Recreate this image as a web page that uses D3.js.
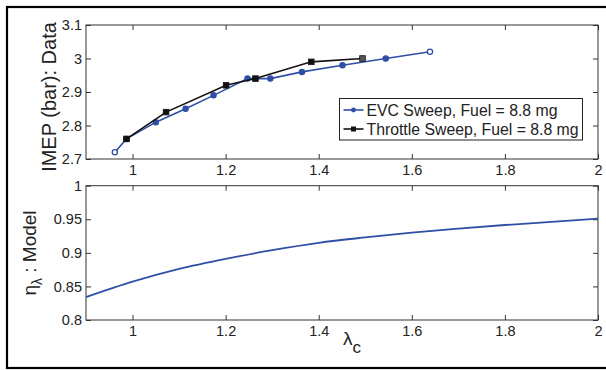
<!DOCTYPE html>
<html>
<head>
<meta charset="utf-8">
<script src="https://cdn.jsdelivr.net/npm/d3@7"></script>
<style>
  body { margin: 0; background: #fff; }
  text { font-family: "Liberation Sans", Arial, Helvetica, sans-serif; fill: #222; }
</style>
</head>
<body>
<div id="chart"></div>
<script>
// values
const evcLambda = [0.962, 0.987, 1.05, 1.114, 1.174, 1.247, 1.296, 1.364, 1.451, 1.544, 1.639];
const evcImep = [2.72, 2.76, 2.81, 2.85, 2.89, 2.94, 2.94, 2.96, 2.98, 3.00, 3.02];
const throttleLambda = [0.987, 1.072, 1.201, 1.264, 1.384, 1.494];
const throttleImep = [2.76, 2.84, 2.92, 2.94, 2.99, 3.00];
const modelLambda = [0.9, 1.0, 1.1, 1.2, 1.3, 1.4, 1.5, 1.6, 1.7, 1.8, 1.9, 2.0];
const modelEta = [0.834, 0.857, 0.876, 0.891, 0.904, 0.915, 0.923, 0.930, 0.936, 0.9415, 0.946, 0.951];
const xTicks = [1, 1.2, 1.4, 1.6, 1.8, 2];
const imepTicks = [2.7, 2.8, 2.9, 3, 3.1];
const etaTicks = [0.8, 0.85, 0.9, 0.95, 1];
const legendLabels = ["EVC Sweep, Fuel = 8.8 mg", "Throttle Sweep, Fuel = 8.8 mg"];

const blue = "#2f4fa6", black = "#111", axisCol = "#333";

let width = 606, height = 370,
    left = 86, right = 598,
    top1 = 25, bottom1 = 159,
    top2 = 185.7, bottom2 = 320;

const svg = d3.select("#chart").append("svg")
    .attr("width", width)
    .attr("height", height);

svg.append("rect").attr("width", width).attr("height", height).attr("fill", "#fff");

// outer frame (right side falls outside the picture)
svg.append("rect")
    .attr("x", 7).attr("y", 7)
    .attr("width", 610).attr("height", 361)
    .attr("fill", "none")
    .attr("stroke", "#000")
    .attr("stroke-width", 2.2);

const x = d3.scaleLinear().domain([0.9, 2]).range([left, right]);
const yImep = d3.scaleLinear().domain([2.7, 3.1]).range([bottom1, top1]);
const yEta = d3.scaleLinear().domain([0.8, 1]).range([bottom2, top2]);

const fmt = d => String(+d.toFixed(2));

function drawAxes(y, ticks, yTop, yBot) {
    const g = svg.append("g").attr("class", "axes");
    g.append("g")
        .attr("transform", "translate(0," + yBot + ")")
        .call(d3.axisBottom(x).tickValues(xTicks).tickSize(-5).tickPadding(6).tickFormat(fmt));
    g.append("g")
        .attr("transform", "translate(0," + yTop + ")")
        .call(d3.axisTop(x).tickValues(xTicks).tickSize(-5).tickFormat(""));
    g.append("g")
        .attr("transform", "translate(" + left + ",0)")
        .call(d3.axisLeft(y).tickValues(ticks).tickSize(-5).tickPadding(4).tickFormat(fmt));
    g.append("g")
        .attr("transform", "translate(" + right + ",0)")
        .call(d3.axisRight(y).tickValues(ticks).tickSize(-5).tickFormat(""));
    g.selectAll(".domain").remove();
    g.selectAll(".tick line").attr("stroke", axisCol);
    g.selectAll(".tick text")
        .attr("font-size", 14.5)
        .attr("fill", "#222")
        .attr("font-family", '"Liberation Sans", Arial, sans-serif');
    g.append("rect")
        .attr("x", left).attr("y", yTop)
        .attr("width", right - left).attr("height", yBot - yTop)
        .attr("fill", "none")
        .attr("stroke", axisCol)
        .attr("stroke-width", 1);
}

drawAxes(yImep, imepTicks, top1, bottom1);
drawAxes(yEta, etaTicks, top2, bottom2);

// top panel: data
const evc = evcLambda.map((l, i) => ({l: l, v: evcImep[i]}));
const thr = throttleLambda.map((l, i) => ({l: l, v: throttleImep[i]}));

const lineTop = d3.line().x(d => x(d.l)).y(d => yImep(d.v));

svg.append("path").datum(evc)
    .attr("d", lineTop)
    .attr("fill", "none")
    .attr("stroke", blue)
    .attr("stroke-width", 1.6);

svg.selectAll(".evcDot")
    .data(evc)
    .enter().append("circle")
    .attr("class", "evcDot")
    .attr("cx", d => x(d.l))
    .attr("cy", d => yImep(d.v))
    .attr("r", 2.6)
    .attr("fill", (d, i) => (i === 0 || i === evc.length - 1) ? "#fff" : blue)
    .attr("stroke", blue)
    .attr("stroke-width", 1.3);

svg.append("path").datum(thr)
    .attr("d", lineTop)
    .attr("fill", "none")
    .attr("stroke", black)
    .attr("stroke-width", 1.6);

svg.selectAll(".thrDot")
    .data(thr)
    .enter().append("rect")
    .attr("class", "thrDot")
    .attr("x", d => x(d.l) - 2.8)
    .attr("y", d => yImep(d.v) - 2.8)
    .attr("width", 5.6)
    .attr("height", 5.6)
    .attr("fill", (d, i) => i === thr.length - 1 ? "#555" : black)
    .attr("stroke", black)
    .attr("stroke-width", 0.8);

// legend
const legend = svg.append("g").attr("transform", "translate(339.5,98.5)");
legend.append("rect")
    .attr("width", 243).attr("height", 41.5)
    .attr("fill", "#fff")
    .attr("stroke", "#222")
    .attr("stroke-width", 1);

legendLabels.forEach(function(lbl, i) {
    let ly = 11.5 + i * 19;
    let col = i === 0 ? blue : black;
    legend.append("line")
        .attr("x1", 4).attr("x2", 24)
        .attr("y1", ly).attr("y2", ly)
        .attr("stroke", col).attr("stroke-width", 1.6);
    if (i === 0) {
        legend.append("circle").attr("cx", 14).attr("cy", ly).attr("r", 2.4).attr("fill", col);
    } else {
        legend.append("rect").attr("x", 11.5).attr("y", ly - 2.5).attr("width", 5).attr("height", 5).attr("fill", col);
    }
    legend.append("text")
        .attr("x", 27).attr("y", ly)
        .attr("dy", "0.36em")
        .attr("font-size", 15.8)
        .text(lbl);
});

// bottom panel: model curve
const model = modelLambda.map((l, i) => ({l: l, v: modelEta[i]}));
svg.append("path").datum(model)
    .attr("d", d3.line().curve(d3.curveMonotoneX).x(d => x(d.l)).y(d => yEta(d.v)))
    .attr("fill", "none")
    .attr("stroke", blue)
    .attr("stroke-width", 1.8);

// axis labels
svg.append("text")
    .attr("transform", "translate(56," + 97 + ") rotate(-90)")
    .attr("text-anchor", "middle")
    .attr("font-size", 20)
    .text("IMEP (bar): Data");

const etaLabel = svg.append("text")
    .attr("transform", "translate(36," + 253 + ") rotate(-90)")
    .attr("text-anchor", "middle")
    .attr("font-size", 19);
etaLabel.append("tspan").text("\u03b7");
etaLabel.append("tspan").attr("font-size", 14).attr("dy", 6).text("\u03bb");
etaLabel.append("tspan").attr("dy", -6).text(" : Model");

const xLabel = svg.append("text")
    .attr("x", 343).attr("y", 345)
    .attr("font-size", 19);
xLabel.append("tspan").text("\u03bb");
xLabel.append("tspan").attr("font-size", 17).attr("dy", 8).text("c");
</script>
</body>
</html>
